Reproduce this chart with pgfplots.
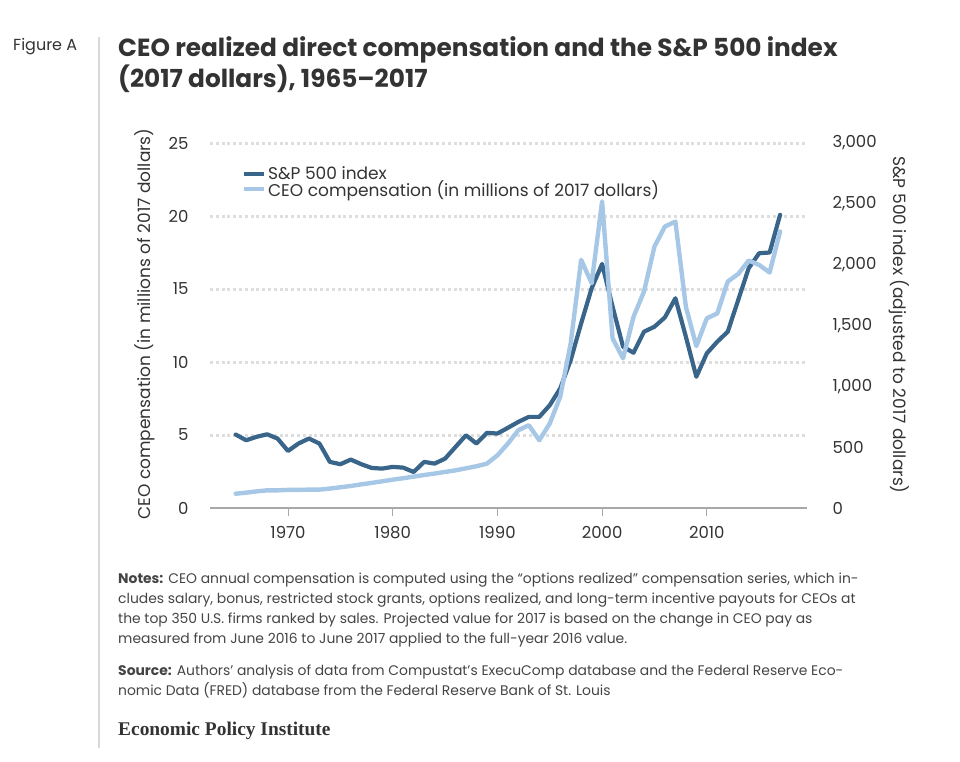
\documentclass[border=0pt]{standalone}
\usepackage{fontspec}
\setmainfont{Poppins}
\newfontfamily\notesfont{Poppins}
\newfontfamily\epifont{Liberation Serif}
\usepackage{pgfplots}
\usepackage{pgfplotstable}
\pgfplotsset{compat=1.18}
\definecolor{spdark}{HTML}{39658A}
\definecolor{ceolight}{HTML}{A6C8E6}
\definecolor{txt}{HTML}{333333}
\definecolor{notec}{HTML}{444444}
\definecolor{gridc}{HTML}{DEDEDE}
\definecolor{axisc}{HTML}{A8A8A8}
\pgfplotstableread{
year sp
1965 604
1966 557
1967 585
1968 606
1969 571
1970 469
1971 530
1972 571
1973 530
1974 379
1975 360
1976 398
1977 360
1978 329
1979 324
1980 338
1981 332
1982 296
1983 379
1984 365
1985 406
1986 502
1987 598
1988 530
1989 618
1990 612
1991 659
1992 708
1993 749
1994 749
1995 845
1996 983
1997 1216
1998 1518
1999 1806
2000 2006
2001 1655
2002 1326
2003 1276
2004 1449
2005 1490
2006 1567
2007 1724
2008 1408
2009 1079
2010 1271
2011 1367
2012 1449
2013 1710
2014 1971
2015 2094
2016 2100
2017 2410
}\sptable
\pgfplotstableread{
year ceo
1965 0.98
1966 1.05
1967 1.14
1968 1.21
1969 1.21
1970 1.24
1971 1.24
1972 1.26
1973 1.26
1974 1.33
1975 1.42
1976 1.51
1977 1.62
1978 1.72
1979 1.83
1980 1.94
1981 2.04
1982 2.15
1983 2.26
1984 2.36
1985 2.47
1986 2.58
1987 2.72
1988 2.86
1989 3.04
1990 3.61
1991 4.41
1992 5.33
1993 5.67
1994 4.64
1995 5.79
1996 7.62
1997 11.28
1998 17.0
1999 15.4
2000 21.0
2001 11.62
2002 10.25
2003 13.1
2004 14.82
2005 17.91
2006 19.28
2007 19.62
2008 13.79
2009 11.09
2010 12.99
2011 13.33
2012 15.51
2013 16.03
2014 16.95
2015 16.65
2016 16.13
2017 18.94
}\ceotable
\begin{document}
\begin{tikzpicture}[x=1pt,y=1pt]
\useasboundingbox (0,0) rectangle (960,-761);
% header
\node[anchor=base west, inner sep=0, font=\fontsize{16}{18}\selectfont, text=txt] at (13,-50) {Figure A};
\draw[gray!30, line width=1.2pt] (99,-37) -- (99,-748);
\node[anchor=base west, inner sep=0, font=\fontsize{24.8}{28}\selectfont\bfseries, text=txt] at (118,-56) {CEO realized direct compensation and the S\&P 500 index};
\node[anchor=base west, inner sep=0, font=\fontsize{24.8}{28}\selectfont\bfseries, text=txt] at (118,-87) {(2017 dollars), 1965--2017};
% right axis: S&P 500 (drawn first, carries grid and x axis)
\begin{axis}[
  at={(210pt,-508pt)}, anchor=south west,
  scale only axis, width=597pt, height=365pt,
  xmin=1962.55, xmax=2019.57, ymin=0, ymax=3000,
  axis x line*=bottom, axis y line*=right,
  x axis line style={draw=axisc, line width=1.8pt, -},
  y axis line style={draw=none},
  xtick={1970,1980,1990,2000,2010},
  xticklabels={1970,1980,1990,2000,2010},
  xtick style={draw=axisc, line width=1pt},
  tick align=outside, major tick length=8pt,
  ytick={0,500,1000,1500,2000,2500,3000},
  ytick style={draw=none},
  extra y ticks={600,1200,1800,2400,3000},
  extra y tick labels={},
  extra y tick style={grid=major},
  major grid style={draw=gridc, line width=3pt, dash pattern=on 3pt off 2.8pt},
  /pgf/number format/assume math mode=true,
  tick label style={font=\fontsize{16.5}{18}\selectfont, text=txt},
  yticklabel style={xshift=14pt},
  xticklabel style={yshift=-7pt},
  clip=false,
]
\addplot[spdark, line width=4.2pt, line join=round, line cap=round] table[x=year, y=sp] {\sptable};
\end{axis}
% left axis: CEO compensation
\begin{axis}[
  at={(210pt,-508pt)}, anchor=south west,
  scale only axis, width=597pt, height=365pt,
  xmin=1962.55, xmax=2019.57, ymin=0, ymax=25,
  axis x line=none, axis y line*=left,
  y axis line style={draw=none},
  xtick=\empty,
  ytick={0,5,10,15,20,25},
  ytick style={draw=none},
  /pgf/number format/assume math mode=true,
  tick label style={font=\fontsize{16.5}{18}\selectfont, text=txt},
  yticklabel style={xshift=-18pt},
  legend style={at={(0.0536,0.94)}, anchor=north west, draw=none, fill=none,
    inner sep=0pt, row sep=-3.5pt, font=\fontsize{17}{17}\selectfont, text=txt,
    nodes={inner sep=1.5pt}},
  legend cell align=left,
  legend image code/.code={\draw[#1, line cap=butt] (0pt,0pt) -- (20pt,0pt);},
  clip=false,
]
\addlegendimage{spdark, line width=4.2pt}
\addlegendentry{S\&P 500 index}
\addplot[ceolight, line width=4.4pt, line join=round, line cap=round] table[x=year, y=ceo] {\ceotable};
\addlegendentry{CEO compensation (in millions of 2017 dollars)}
\end{axis}
% axis titles
\node[rotate=90, font=\fontsize{17}{18}\selectfont, text=txt] at (145,-324) {CEO compensation (in millions of 2017 dollars)};
\node[rotate=-90, font=\fontsize{17}{18}\selectfont, text=txt] at (899,-325) {S\&P 500 index (adjusted to 2017 dollars)};
% notes
\begin{scope}[every node/.style={anchor=base west, inner sep=0, font=\notesfont\fontsize{13.9}{15}\selectfont, text=notec}]
\node at (118,-583) {\textbf{Notes:} CEO annual compensation is computed using the “options realized” compensation series, which in-};
\node at (118,-603) {cludes salary, bonus, restricted stock grants, options realized, and long-term incentive payouts for CEOs at};
\node at (118,-623) {the top 350 U.S. firms ranked by sales. Projected value for 2017 is based on the change in CEO pay as};
\node at (118,-643) {measured from June 2016 to June 2017 applied to the full-year 2016 value.};
\node at (118,-675) {\textbf{Source:} Authors’ analysis of data from Compustat’s ExecuComp database and the Federal Reserve Eco-};
\node at (118,-695) {nomic Data (FRED) database from the Federal Reserve Bank of St. Louis};
\end{scope}
\node[anchor=base west, inner sep=0, font=\epifont\bfseries\fontsize{19.4}{21}\selectfont, text=txt] at (118,-735) {Economic Policy Institute};
\end{tikzpicture}
\end{document}
